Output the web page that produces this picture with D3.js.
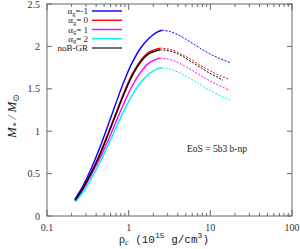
<!DOCTYPE html>
<html>
<head>
<meta charset="utf-8">
<script src="https://cdn.jsdelivr.net/npm/d3@7"></script>
<style>
  body { margin: 0; background: #fff; }
  svg text { font-family: "Liberation Serif", "DejaVu Serif", serif; }
</style>
</head>
<body>
<svg id="chart" width="300" height="249"></svg>
<script>
// series: [rho_c, M] points, solid (stable) and dashed (unstable) parts
const seriesNames = ["αg=-1", "αg= 0", "αg= 1", "αg= 2", "noB-GR"];
const seriesColors = ["#0000ff", "#ff0000", "#ff00ff", "#00f0f0", "#000000"];

const blueSolid = [[0.22, 0.20], [0.277, 0.36], [0.348, 0.56], [0.439, 0.795], [0.552, 1.055], [0.695, 1.325], [0.875, 1.585], [1.10, 1.805], [1.39, 1.975], [1.75, 2.09], [2.20, 2.165], [2.56, 2.19]];
const blueDash = [[2.56, 2.19], [3.22, 2.175], [4.06, 2.135], [5.11, 2.08], [6.43, 2.02], [8.09, 1.96], [10.2, 1.905], [12.8, 1.86], [17.4, 1.81]];
const redSolid = [[0.22, 0.19], [0.277, 0.335], [0.348, 0.515], [0.439, 0.725], [0.552, 0.96], [0.695, 1.21], [0.875, 1.455], [1.10, 1.67], [1.39, 1.83], [1.75, 1.93], [2.20, 1.97], [2.41, 1.98]];
const redDash = [[2.41, 1.98], [3.03, 1.97], [3.82, 1.94], [4.81, 1.89], [6.05, 1.835], [7.62, 1.775], [9.59, 1.72], [12.1, 1.67], [17.4, 1.61]];
const magSolid = [[0.22, 0.18], [0.277, 0.315], [0.348, 0.485], [0.439, 0.67], [0.552, 0.88], [0.695, 1.105], [0.875, 1.33], [1.10, 1.53], [1.39, 1.69], [1.75, 1.80], [2.20, 1.85], [2.41, 1.86]];
const magDash = [[2.41, 1.86], [3.03, 1.85], [3.82, 1.82], [4.81, 1.77], [6.05, 1.715], [7.62, 1.655], [9.59, 1.60], [12.1, 1.55], [17.4, 1.48]];
const cyanSolid = [[0.225, 0.17], [0.283, 0.295], [0.356, 0.455], [0.449, 0.64], [0.565, 0.845], [0.711, 1.055], [0.895, 1.26], [1.13, 1.44], [1.42, 1.58], [1.79, 1.68], [2.25, 1.735], [2.56, 1.745]];
const cyanDash = [[2.56, 1.745], [3.22, 1.73], [4.06, 1.695], [5.11, 1.645], [6.43, 1.59], [8.09, 1.53], [10.2, 1.475], [12.8, 1.425], [17.4, 1.37]];
const blackSolid = [[0.22, 0.185], [0.277, 0.33], [0.348, 0.505], [0.439, 0.71], [0.552, 0.945], [0.695, 1.19], [0.875, 1.435], [1.10, 1.65], [1.39, 1.81], [1.75, 1.91], [2.20, 1.95], [2.41, 1.96]];
const blackDash = [[2.41, 1.96], [3.03, 1.95], [3.82, 1.92], [4.81, 1.87], [6.05, 1.81], [7.62, 1.75], [9.59, 1.69], [12.1, 1.64], [14.3, 1.60]];

const solidParts = [blueSolid, redSolid, magSolid, cyanSolid, blackSolid];
const dashParts = [blueDash, redDash, magDash, cyanDash, blackDash];

const xTicks = [0.1, 1, 10, 100];
const yTicks = [0, 0.5, 1, 1.5, 2, 2.5];

const svg = d3.select("#chart");
const padL = 47, padR = 292, padT = 4, padB = 216;

const x = d3.scaleLog().domain([0.1, 100]).range([padL, padR]);
const y = d3.scaleLinear().domain([0, 2.5]).range([padB, padT]);

const axisColor = "#666";

// minor ticks on log axis
const minorX = [];
for (let d = 0.1; d < 100; d *= 10) {
    for (let k = 2; k <= 9; k++) minorX.push(d * k);
}

const g = svg.append("g");

// frame
g.append("rect")
    .attr("x", padL).attr("y", padT)
    .attr("width", padR - padL).attr("height", padB - padT)
    .attr("fill", "none").attr("stroke", axisColor).attr("stroke-width", 1);

// x ticks (bottom + top, inward)
g.selectAll("line.xmin").data(minorX).enter().append("line")
    .attr("x1", d => x(d)).attr("x2", d => x(d))
    .attr("y1", padB).attr("y2", padB - 3)
    .attr("stroke", axisColor);
g.selectAll("line.xmint").data(minorX).enter().append("line")
    .attr("x1", d => x(d)).attr("x2", d => x(d))
    .attr("y1", padT).attr("y2", padT + 3)
    .attr("stroke", axisColor);
g.selectAll("line.xmaj").data(xTicks).enter().append("line")
    .attr("x1", d => x(d)).attr("x2", d => x(d))
    .attr("y1", padB).attr("y2", padB - 6)
    .attr("stroke", axisColor);
g.selectAll("line.xmajt").data(xTicks).enter().append("line")
    .attr("x1", d => x(d)).attr("x2", d => x(d))
    .attr("y1", padT).attr("y2", padT + 6)
    .attr("stroke", axisColor);
g.selectAll("text.xl").data(xTicks).enter().append("text")
    .attr("x", d => x(d)).attr("y", 231)
    .attr("text-anchor", "middle")
    .attr("font-size", 10).attr("fill", "#333")
    .text(d => d3.format("~g")(d));

// y ticks (left + right, inward)
g.selectAll("line.yl").data(yTicks).enter().append("line")
    .attr("x1", padL).attr("x2", padL + 5)
    .attr("y1", d => y(d)).attr("y2", d => y(d))
    .attr("stroke", axisColor);
g.selectAll("line.yr").data(yTicks).enter().append("line")
    .attr("x1", padR).attr("x2", padR - 5)
    .attr("y1", d => y(d)).attr("y2", d => y(d))
    .attr("stroke", axisColor);
g.selectAll("text.yl").data(yTicks).enter().append("text")
    .attr("x", 40).attr("y", d => y(d) + 3.5)
    .attr("text-anchor", "end")
    .attr("font-size", 10).attr("fill", "#333")
    .text(d => d3.format("~g")(d));

// curves
const line = d3.line()
    .x(d => x(d[0])).y(d => y(d[1]))
    .curve(d3.curveCatmullRom);

solidParts.forEach(function (pts, i) {
    g.append("path").attr("d", line(pts))
        .attr("fill", "none").attr("stroke", seriesColors[i])
        .attr("stroke-width", 1.4);
});
dashParts.forEach(function (pts, i) {
    g.append("path").attr("d", line(pts))
        .attr("fill", "none").attr("stroke", seriesColors[i])
        .attr("stroke-width", 1)
        .attr("stroke-dasharray", "2,1.5");
});

// legend
const legend = g.append("g");
seriesNames.forEach(function (name, i) {
    const ly = 11 + i * 9.25;
    const t = legend.append("text")
        .attr("x", 88).attr("y", ly + 3)
        .attr("text-anchor", "end")
        .attr("font-size", 9).attr("fill", "#222");
    if (name.startsWith("α")) {
        t.append("tspan").text("α");
        t.append("tspan").attr("font-size", 6.5).attr("dy", 1.5).text("g");
        t.append("tspan").attr("dy", -1.5).text(name.slice(2));
    } else {
        t.text(name);
    }
    legend.append("line")
        .attr("x1", 92).attr("x2", 122)
        .attr("y1", ly).attr("y2", ly)
        .attr("stroke", i === 4 ? "#333" : seriesColors[i])
        .attr("stroke-width", 1.4);
});

// annotation
g.append("text")
    .attr("x", 217).attr("y", 152)
    .attr("text-anchor", "middle")
    .attr("font-size", 9.5).attr("fill", "#222")
    .text("EoS = 5b3 b-np");

// x label
const xl = g.append("text")
    .attr("x", 164).attr("y", 243)
    .attr("text-anchor", "middle")
    .attr("font-size", 12).attr("fill", "#222");
xl.append("tspan").text("ρ");
xl.append("tspan").attr("font-size", 8).attr("font-style", "italic").attr("dy", 2).text("c");
xl.append("tspan").attr("dy", -2).attr("font-family", "'Liberation Mono', monospace").attr("font-size", 11).text(" (10");
xl.append("tspan").attr("dy", -5).attr("font-family", "'Liberation Mono', monospace").attr("font-size", 8).text("15");
xl.append("tspan").attr("dy", 5).attr("font-family", "'Liberation Mono', monospace").attr("font-size", 11).text(" g/cm");
xl.append("tspan").attr("dy", -5).attr("font-family", "'Liberation Mono', monospace").attr("font-size", 8).text("3");
xl.append("tspan").attr("dy", 5).attr("font-family", "'Liberation Mono', monospace").attr("font-size", 11).text(")");

// y label
const yl = g.append("text")
    .attr("transform", "translate(16,116) rotate(-90)")
    .attr("text-anchor", "middle")
    .attr("font-size", 13).attr("fill", "#222").attr("font-style", "italic");
yl.append("tspan").text("M");
yl.append("tspan").attr("font-size", 9).attr("dy", 3).text("*");
yl.append("tspan").attr("dy", -3).text(" / M");
yl.append("tspan").attr("font-size", 9).attr("font-style", "normal").attr("dy", 3).text("⊙");
</script>
</body>
</html>
